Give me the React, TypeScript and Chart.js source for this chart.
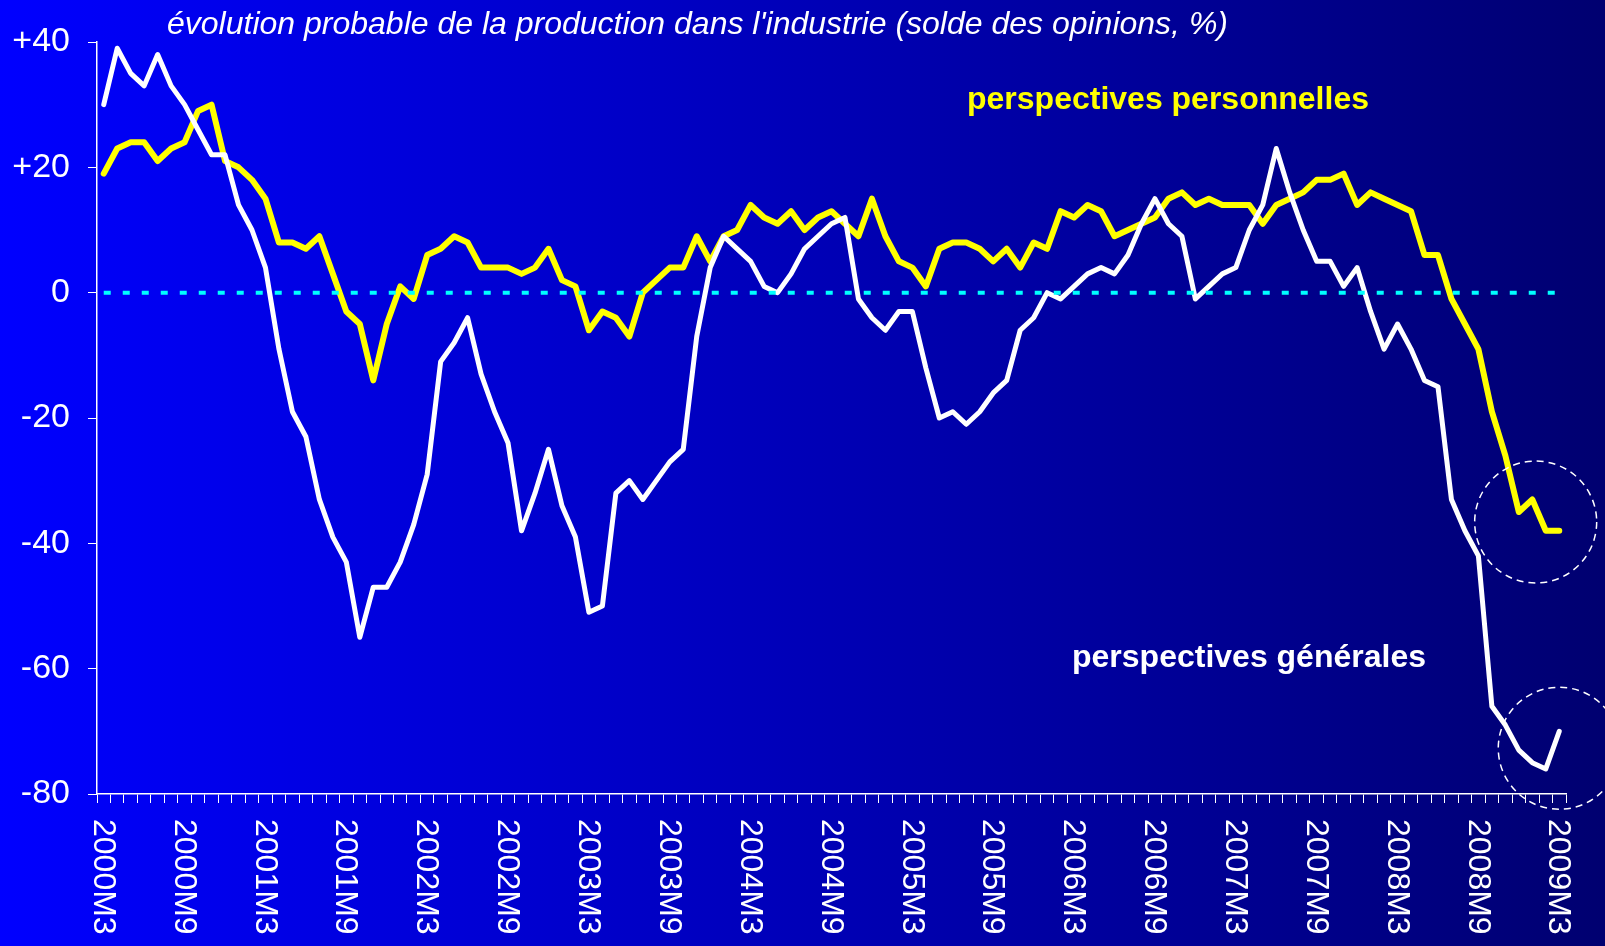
import React, { useEffect, useRef } from 'react';
import { Chart, registerables } from 'chart.js';

Chart.register(...registerables);

// ---- data ----
const startYear = 2000;
const startMonth = 3;
const monthCount = 109;
const categories: string[] = [];
for (let k = 0; k < monthCount; k++) {
  const m = startMonth - 1 + k;
  categories.push(`${startYear + Math.floor(m / 12)}M${(m % 12) + 1}`);
}

const generales = [
  30, 39, 35, 33, 38, 33, 30, 26, 22, 22, 14, 10, 4, -9, -19, -23, -33, -39, -43, -55,
  -47, -47, -43, -37, -29, -11, -8, -4, -13, -19, -24, -38, -32, -25, -34, -39, -51, -50, -32, -30,
  -33, -30, -27, -25, -7, 4, 9, 7, 5, 1, 0, 3, 7, 9, 11, 12, -1, -4, -6, -3,
  -3, -12, -20, -19, -21, -19, -16, -14, -6, -4, 0, -1, 1, 3, 4, 3, 6, 11, 15, 11,
  9, -1, 1, 3, 4, 10, 14, 23, 16, 10, 5, 5, 1, 4, -3, -9, -5, -9, -14, -15,
  -33, -38, -42, -66, -69, -73, -75, -76, -70,
];

const personnelles = [
  19, 23, 24, 24, 21, 23, 24, 29, 30, 21, 20, 18, 15, 8, 8, 7, 9, 3, -3, -5,
  -14, -5, 1, -1, 6, 7, 9, 8, 4, 4, 4, 3, 4, 7, 2, 1, -6, -3, -4, -7,
  0, 2, 4, 4, 9, 5, 9, 10, 14, 12, 11, 13, 10, 12, 13, 11, 9, 15, 9, 5,
  4, 1, 7, 8, 8, 7, 5, 7, 4, 8, 7, 13, 12, 14, 13, 9, 10, 11, 12, 15,
  16, 14, 15, 14, 14, 14, 11, 14, 15, 16, 18, 18, 19, 14, 16, 15, 14, 13, 6, 6,
  -1, -5, -9, -19, -26, -35, -33, -38, -38,
];

const zeroLine = categories.map(() => 0);

const yMin = -80;
const yMax = 40;
const yStep = 20;
const xLabelMonths = [3, 9];

const titleText = "évolution probable de la production dans l'industrie (solde des opinions, %)";
const labelPersonnelles = 'perspectives personnelles';
const labelGenerales = 'perspectives générales';

// dashed circles highlighting the latest values (index, value)
const circleMarks = [
  { index: 106.25, value: -36.6 },
  { index: 108, value: -72.7 },
];

const FONT = '"Liberation Sans", Arial, Helvetica, sans-serif';

const decorPlugin = {
  id: 'decor',
  beforeDraw(chart: any) {
    const { ctx, width, height } = chart;
    const g = ctx.createLinearGradient(0, 0, width, 0);
    g.addColorStop(0, 'rgb(0,0,255)');
    g.addColorStop(1, 'rgb(0,0,112)');
    ctx.save();
    ctx.fillStyle = g;
    ctx.fillRect(0, 0, width, height);
    ctx.restore();
  },
  afterDraw(chart: any) {
    const { ctx } = chart;
    const xs = chart.scales.x;
    const ys = chart.scales.y;
    ctx.save();
    ctx.textAlign = 'left';
    ctx.textBaseline = 'middle';

    ctx.fillStyle = '#ffffff';
    ctx.font = `italic 32px ${FONT}`;
    ctx.fillText(titleText, 167, 25);

    ctx.font = `bold 32px ${FONT}`;
    ctx.fillStyle = '#ffff00';
    ctx.fillText(labelPersonnelles, 967, 100);
    ctx.fillStyle = '#ffffff';
    ctx.fillText(labelGenerales, 1072, 658);

    // rotated category labels
    ctx.font = `32px ${FONT}`;
    ctx.fillStyle = '#ffffff';
    categories.forEach((c, i) => {
      const m = parseInt(c.split('M')[1], 10);
      if (!xLabelMonths.includes(m)) return;
      const px = xs.getPixelForValue(i);
      ctx.save();
      ctx.translate(px - 1, ys.bottom + 25);
      ctx.rotate(Math.PI / 2);
      ctx.textAlign = 'left';
      ctx.textBaseline = 'middle';
      ctx.fillText(c, 0, 0);
      ctx.restore();
    });

    // dashed circles
    ctx.strokeStyle = '#ffffff';
    ctx.lineWidth = 1.5;
    ctx.setLineDash([7, 5]);
    circleMarks.forEach((cm) => {
      const cx = xs.getPixelForValue(cm.index);
      const cy = ys.getPixelForValue(cm.value);
      ctx.beginPath();
      ctx.arc(cx, cy, 61, 0, Math.PI * 2);
      ctx.stroke();
    });
    ctx.restore();
  },
};

export default function App() {
  const ref = useRef<HTMLCanvasElement | null>(null);

  useEffect(() => {
    document.body.style.margin = '0';
    const canvas = ref.current;
    if (!canvas) return;
    const chart = new Chart(canvas, {
      type: 'line',
      data: {
        labels: categories,
        datasets: [
          {
            label: 'zero',
            data: zeroLine,
            borderColor: '#00ffff',
            borderWidth: 4,
            borderDash: [7, 12],
            pointRadius: 0,
            tension: 0,
            order: 0,
          },
          {
            label: labelGenerales,
            data: generales,
            borderColor: '#ffffff',
            borderWidth: 5,
            pointRadius: 0,
            tension: 0,
            borderJoinStyle: 'round',
            borderCapStyle: 'round',
            order: 1,
          },
          {
            label: labelPersonnelles,
            data: personnelles,
            borderColor: '#ffff00',
            borderWidth: 6,
            pointRadius: 0,
            tension: 0,
            borderJoinStyle: 'round',
            borderCapStyle: 'round',
            order: 2,
          },
        ],
      },
      options: {
        responsive: false,
        animation: false,
        maintainAspectRatio: false,
        layout: { padding: { top: 42, right: 39, left: 0, bottom: 0 } },
        plugins: {
          legend: { display: false },
          tooltip: { enabled: false },
        },
        scales: {
          x: {
            type: 'category',
            offset: true,
            grid: {
              display: true,
              offset: true,
              drawOnChartArea: false,
              drawTicks: true,
              tickLength: 9,
              color: '#ffffff',
              lineWidth: 1,
            },
            border: { display: true, color: '#ffffff', width: 1.5 },
            ticks: { display: false, autoSkip: false },
            afterFit: (s: any) => {
              s.height = 152;
            },
          },
          y: {
            min: yMin,
            max: yMax,
            ticks: {
              stepSize: yStep,
              color: '#ffffff',
              padding: 18,
              font: { size: 34, family: FONT },
              callback: (v: any) => (Number(v) > 0 ? `+${v}` : `${v}`),
            },
            grid: {
              drawOnChartArea: false,
              drawTicks: true,
              tickLength: 9,
              color: '#ffffff',
              lineWidth: 1,
            },
            border: { display: true, color: '#ffffff', width: 1.5 },
            afterFit: (s: any) => {
              s.width = 97;
            },
          },
        },
      },
      plugins: [decorPlugin],
    });
    return () => chart.destroy();
  }, []);

  return (
    <div style={{ width: 1605, height: 946 }}>
      <canvas ref={ref} width={1605} height={946} style={{ display: 'block' }} />
    </div>
  );
}
